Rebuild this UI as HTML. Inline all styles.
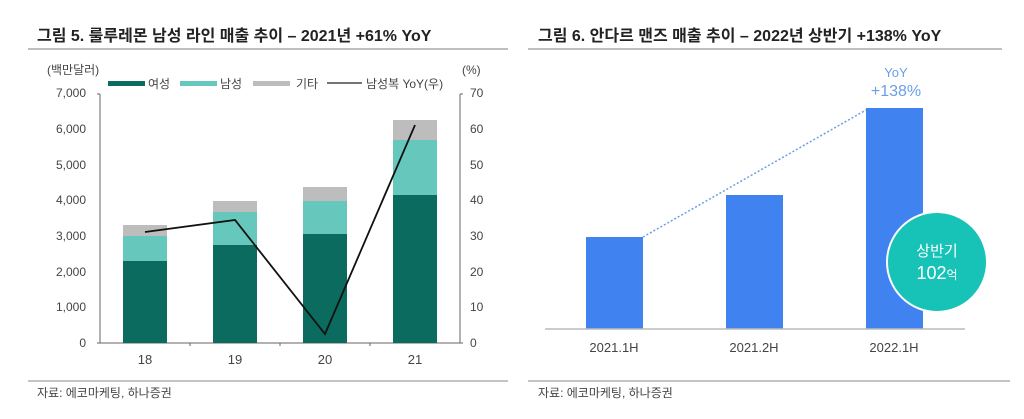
<!DOCTYPE html>
<html><head><meta charset="utf-8"><style>
body{margin:0;background:#fff;width:1024px;height:414px;overflow:hidden;font-family:"Liberation Sans","Noto Sans CJK KR",sans-serif}
</style></head><body>
<svg width="1024" height="414" xmlns="http://www.w3.org/2000/svg" font-family="Liberation Sans, Noto Sans CJK KR, sans-serif">
<text x="37" y="41" font-size="16" font-weight="bold" fill="#222">그림 5. 룰루레몬 남성 라인 매출 추이 – 2021년 +61% YoY</text>
<line x1="28" y1="49" x2="508" y2="49" stroke="#aaa" stroke-width="1.5"/>
<text x="538" y="41" font-size="16" font-weight="bold" fill="#222">그림 6. 안다르 맨즈 매출 추이 – 2022년 상반기 +138% YoY</text>
<line x1="528" y1="49" x2="1002" y2="49" stroke="#aaa" stroke-width="1.5"/>
<g font-size="12" fill="#444">
<text x="47" y="74">(백만달러)</text><text x="462" y="74">(%)</text>
<g text-anchor="end">
<text x="86" y="97">7,000</text><text x="86" y="133">6,000</text><text x="86" y="169">5,000</text><text x="86" y="204">4,000</text><text x="86" y="240">3,000</text><text x="86" y="276">2,000</text><text x="86" y="311">1,000</text><text x="86" y="347">0</text></g>
<g><text x="470" y="97">70</text><text x="470" y="133">60</text><text x="470" y="169">50</text><text x="470" y="204">40</text><text x="470" y="240">30</text><text x="470" y="276">20</text><text x="470" y="311">10</text><text x="470" y="347">0</text></g>
<g text-anchor="middle" font-size="13"><text x="145" y="364">18</text><text x="235" y="364">19</text><text x="325" y="364">20</text><text x="415" y="364">21</text></g>
</g>
<g stroke="#666" stroke-width="1">
<line x1="100" y1="94" x2="100" y2="343"/><line x1="460" y1="94" x2="460" y2="343"/><line x1="100" y1="343" x2="460" y2="343"/>
<line x1="97" y1="94" x2="100" y2="94"/><line x1="460" y1="94" x2="463" y2="94"/>
<line x1="97" y1="343" x2="100" y2="343"/><line x1="460" y1="343" x2="463" y2="343"/>
<line x1="190" y1="343" x2="190" y2="346"/><line x1="280" y1="343" x2="280" y2="346"/><line x1="370" y1="343" x2="370" y2="346"/>
</g>
<rect x="108" y="81" width="37" height="5" fill="#0b6b5e"/><text x="148" y="88" font-size="12" fill="#444">여성</text>
<rect x="180" y="81" width="37" height="5" fill="#66c8bc"/><text x="220" y="88" font-size="12" fill="#444">남성</text>
<rect x="253" y="81" width="37" height="5" fill="#bdbdbd"/><text x="296" y="88" font-size="12" fill="#444">기타</text>
<line x1="327" y1="83" x2="362" y2="83" stroke="#222" stroke-width="1.3"/><text x="366" y="88" font-size="12" fill="#444">남성복 YoY(우)</text>
<g>
<rect x="123" y="261" width="44" height="82" fill="#0b6b5e"/><rect x="123" y="236" width="44" height="25" fill="#66c8bc"/><rect x="123" y="225" width="44" height="11" fill="#bdbdbd"/>
<rect x="213" y="245" width="44" height="98" fill="#0b6b5e"/><rect x="213" y="212" width="44" height="33" fill="#66c8bc"/><rect x="213" y="201" width="44" height="11" fill="#bdbdbd"/>
<rect x="303" y="234" width="44" height="109" fill="#0b6b5e"/><rect x="303" y="201" width="44" height="33" fill="#66c8bc"/><rect x="303" y="187" width="44" height="14" fill="#bdbdbd"/>
<rect x="393" y="195" width="44" height="148" fill="#0b6b5e"/><rect x="393" y="140" width="44" height="55" fill="#66c8bc"/><rect x="393" y="120" width="44" height="20" fill="#bdbdbd"/>
</g>
<polyline points="145,232 235,220 325,334 415,125" fill="none" stroke="#111" stroke-width="1.8"/>
<line x1="28" y1="381" x2="508" y2="381" stroke="#888"/>
<text x="37" y="397" font-size="12" fill="#444">자료: 에코마케팅, 하나증권</text>
<line x1="643" y1="237" x2="866" y2="110" stroke="#6b9ee8" stroke-width="1.5" stroke-dasharray="2,2"/>
<rect x="586" y="237" width="57" height="92" fill="#3f82f0"/>
<rect x="726" y="195" width="57" height="134" fill="#3f82f0"/>
<rect x="866" y="108" width="57" height="221" fill="#3f82f0"/>
<line x1="545" y1="329" x2="965" y2="329" stroke="#bbb" stroke-width="1.5"/>
<circle cx="937" cy="262" r="50" fill="#17c3b6" stroke="#fff" stroke-width="2"/>
<text x="937" y="256" font-size="15" fill="#fff" text-anchor="middle">상반기</text>
<text x="937" y="279" font-size="18" fill="#fff" text-anchor="middle">102<tspan font-size="12">억</tspan></text>
<text x="896" y="77" font-size="13" fill="#6b9ee8" text-anchor="middle">YoY</text>
<text x="896" y="96" font-size="16" fill="#6b9ee8" text-anchor="middle">+138%</text>
<g font-size="13" fill="#444" text-anchor="middle"><text x="614" y="352">2021.1H</text><text x="754" y="352">2021.2H</text><text x="894" y="352">2022.1H</text></g>
<line x1="528" y1="381" x2="1010" y2="381" stroke="#888"/>
<text x="538" y="397" font-size="12" fill="#444">자료: 에코마케팅, 하나증권</text>
</svg>
</body></html>
